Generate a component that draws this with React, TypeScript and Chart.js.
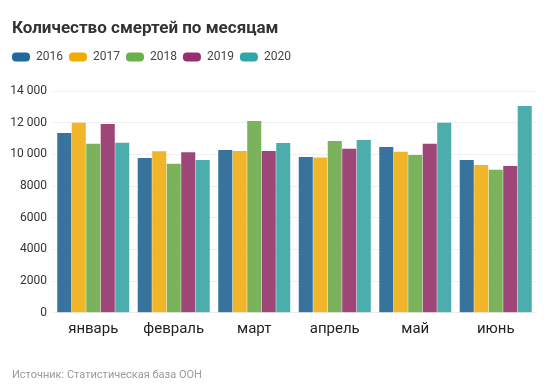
import React, { useEffect, useRef } from "react";
import { Chart, registerables } from "chart.js";

Chart.register(...registerables);

const months = ["январь", "февраль", "март", "апрель", "май", "июнь"];
const years = ["2016", "2017", "2018", "2019", "2020"];
const v2016 = [11350, 9770, 10280, 9835, 10465, 9645];
const v2017 = [12000, 10190, 10215, 9810, 10170, 9330];
const v2018 = [10675, 9415, 12100, 10845, 9960, 9035];
const v2019 = [11920, 10130, 10215, 10360, 10675, 9270];
const v2020 = [10740, 9650, 10720, 10910, 12000, 13050];
const yTicks = [0, 2000, 4000, 6000, 8000, 10000, 12000, 14000];

const barColors = ["#37739c", "#f1b52a", "#7bb35c", "#9e4677", "#4cadad"];
const legendColors = ["#1f6a9a", "#f0ad00", "#6ab04c", "#982d6e", "#2fa7a7"];

const fmt = (v: number) =>
  v >= 10000 ? String(v).replace(/\B(?=(\d{3})+(?!\d))/g, " ") : String(v);

const shiftPlugin = {
  id: "shiftBoxes",
  afterLayout(chart: any) {
    chart.boxes.forEach((b: any) => {
      if (b === chart.legend) {
        b.left += 6;
        b.right += 6;
        b.top -= 18;
        b.bottom -= 18;
      } else if (b.options && typeof b.options.text === "string") {
        b.left += 12;
        b.right += 12;
      }
    });
  },
};

export default function App() {
  const ref = useRef<HTMLCanvasElement | null>(null);
  useEffect(() => {
    document.body.style.margin = "0";
    const series = [v2016, v2017, v2018, v2019, v2020];
    const chart = new Chart(ref.current!, {
      type: "bar",
      data: {
        labels: months,
        datasets: series.map((d, i) => ({
          label: years[i],
          data: d,
          backgroundColor: barColors[i],
          borderWidth: 0,
          categoryPercentage: 0.9,
          barPercentage: 0.97,
        })),
      },
      plugins: [shiftPlugin],
      options: {
        responsive: false,
        animation: false,
        layout: { padding: { left: 0, right: 20, top: 0, bottom: 6 } },
        plugins: {
          tooltip: { enabled: false },
          title: {
            display: true,
            text: "Количество смертей по месяцам",
            align: "start",
            color: "#333333",
            font: { family: "Roboto", size: 17, weight: "bold" },
            padding: { top: 19, bottom: 23.6 },
          },
          legend: {
            display: true,
            align: "start",
            labels: {
              boxWidth: 18,
              boxHeight: 9,
              useBorderRadius: true,
              borderRadius: 4,
              color: "#444444",
              font: { family: "Roboto", size: 12 },
              padding: 6,
              generateLabels: () =>
                years.map((y, i) => ({
                  text: y,
                  fillStyle: legendColors[i],
                  strokeStyle: legendColors[i],
                  lineWidth: 0,
                  fontColor: "#444444",
                  borderRadius: 4,
                  datasetIndex: i,
                  hidden: false,
                })),
            },
          },
          subtitle: {
            display: true,
            position: "bottom",
            align: "start",
            text: "Источник: Статистическая база ООН",
            color: "#9a9a9a",
            font: { family: "Roboto", size: 11 },
            padding: { top: 24, bottom: 0 },
          },
        },
        scales: {
          x: {
            grid: { display: false, drawTicks: false },
            border: { display: true, color: "#eeeeee" },
            ticks: {
              color: "#222222",
              font: { family: "Roboto", size: 15 },
              padding: 7,
            },
          },
          y: {
            min: 0,
            max: 14000,
            afterBuildTicks: (axis: any) => {
              axis.ticks = yTicks.map((v) => ({ value: v }));
            },
            afterFit: (axis: any) => {
              axis.width = 53;
            },
            grid: { color: "#eeeeee", drawTicks: false },
            border: { display: false },
            ticks: {
              color: "#333333",
              font: { family: "Roboto", size: 12 },
              padding: 6,
              callback: (v: any) => fmt(Number(v)),
            },
          },
        },
      },
    });
    return () => chart.destroy();
  }, []);
  return (
    <div style={{ position: "absolute", left: 0, top: 0, width: 556, height: 388, background: "#fff" }}>
      <canvas ref={ref} width={556} height={388} />
    </div>
  );
}
